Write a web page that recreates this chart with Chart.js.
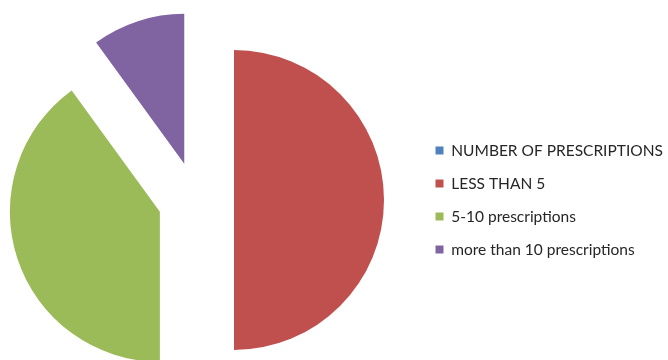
<!DOCTYPE html>
<html lang="en">
<head>
  <meta charset="UTF-8" />
  <title>Prescriptions Pie</title>
  <script src="https://cdn.jsdelivr.net/npm/chart.js"></script>
  <style>
    html, body {
      margin: 0;
      padding: 0;
      background: #fff;
      overflow: hidden;
    }
    /* canvas is a bit wider than the window and pulled left so the pie sits where it should */
    .chart-container {
      position: relative;
      width: 694px;
      height: 400px;
      margin-left: -26px;
    }
  </style>
</head>
<body>
  <div class="chart-container">
    <canvas id="pieChart"></canvas>
  </div>

  <script>
    const categories = ['NUMBER OF PRESCRIPTIONS', 'LESS THAN 5', '5-10 prescriptions', 'more than 10 prescriptions'];
    const shares = [0, 50, 40, 10];
    const sliceColors = ['#4F81BD', '#C0504D', '#9BBB59', '#8064A2'];

    const legendFont = { family: 'Lato', size: 15.5 };
    const legendPadding = 17.5;

    // Excel style exploded pie: push every slice straight out along its middle angle
    const explodeSlices = {
      id: 'explodeSlices',
      afterDatasetsUpdate(chart, args, opts) {
        chart.getDatasetMeta(0).data.forEach(arc => {
          const mid = (arc.startAngle + arc.endAngle) / 2;
          arc.x += Math.cos(mid) * opts.distance;
          arc.y += Math.sin(mid) * opts.distance;
        });
      }
    };

    function buildChart() {
      // legend box is padding + box + gap + longest text + 10 wide (Chart.js vertical legend)
      const measureCtx = document.createElement('canvas').getContext('2d');
      measureCtx.font = legendFont.size + 'px ' + legendFont.family;
      const longestLabel = Math.max(...categories.map(c => measureCtx.measureText(c).width));
      const legendWidth = legendPadding + 8 + legendFont.size / 2 + longestLabel + 10;
      const rightPad = 694 - 444 - legendWidth;

      return new Chart(document.getElementById('pieChart').getContext('2d'), {
        type: 'pie',
        data: {
          labels: categories,
          datasets: [{
            data: shares,
            backgroundColor: sliceColors,
            borderWidth: 0
          }]
        },
        options: {
          responsive: true,
          maintainAspectRatio: false,
          animation: false,
          radius: 150,
          layout: {
            padding: { left: 0, right: rightPad, top: 0, bottom: 0 }
          },
          plugins: {
            explodeSlices: { distance: 38 },
            tooltip: { enabled: false },
            legend: {
              position: 'right',
              labels: {
                boxWidth: 8,
                boxHeight: 8,
                padding: legendPadding,
                color: '#262626',
                font: legendFont
              }
            }
          }
        },
        plugins: [explodeSlices]
      });
    }

    document.fonts.load(legendFont.size + 'px ' + legendFont.family).then(buildChart, buildChart);
  </script>
</body>
</html>
